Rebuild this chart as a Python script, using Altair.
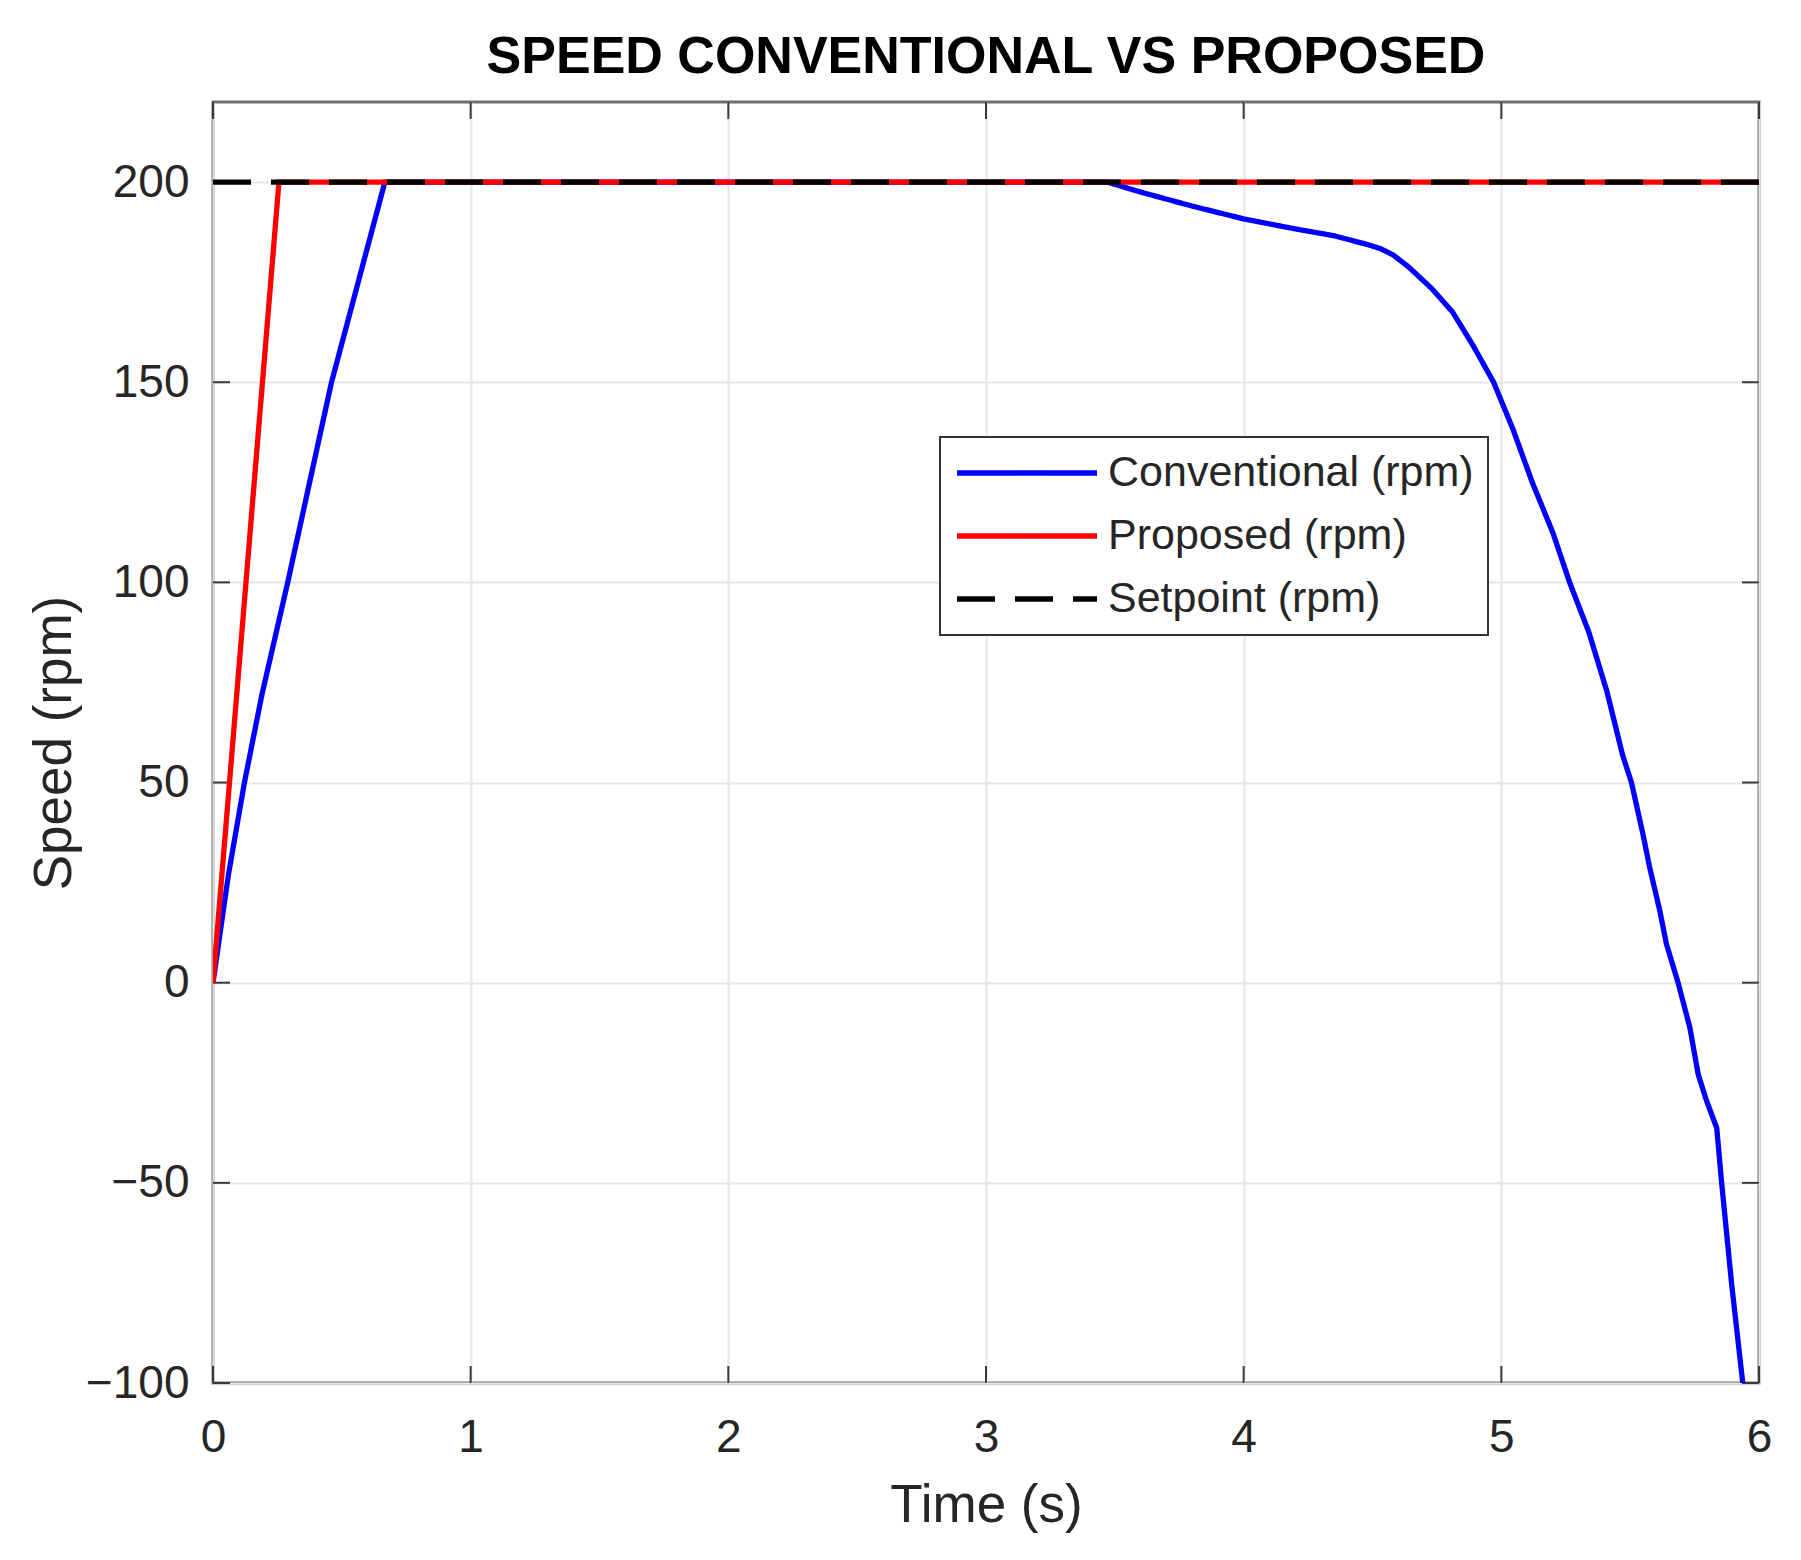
import altair as alt
import pandas as pd

# ---- data ----
conv_t = [0, 0.06, 0.122, 0.19, 0.29, 0.46, 0.667,
          3.47, 3.6, 3.8, 4.0, 4.2, 4.35, 4.48, 4.53, 4.58, 4.64,
          4.73, 4.81, 4.89, 4.97, 5.045, 5.12, 5.2, 5.265, 5.34, 5.41,
          5.47, 5.505, 5.55, 5.575, 5.615, 5.641, 5.686, 5.732, 5.764, 5.797,
          5.836, 5.855, 5.894, 5.937]
conv_v = [0, 27, 50, 72, 100, 150, 200,
          200, 197.5, 194, 190.8, 188.3, 186.6, 184.4, 183.4, 181.8, 178.8,
          173.4, 167.6, 159.2, 150, 138.3, 125, 112.4, 100, 87.5, 72.7,
          57, 50, 37, 29, 18, 9.6, 0, -11.3, -22.9, -29.6,
          -36.3, -50, -75.4, -100]
prop_t = [0, 0.256, 6.0]
prop_v = [0, 200, 200]
set_t = [0, 6.0]
set_v = [200, 200]

series_names = ["Conventional (rpm)", "Proposed (rpm)", "Setpoint (rpm)"]
series_colors = ["#0000ff", "#ff0000", "#000000"]
series_dash = [[1, 0], [1, 0], [38, 20]]

x_ticks = [0, 1, 2, 3, 4, 5, 6]
y_ticks = [-100, -50, 0, 50, 100, 150, 200]

rows = []
for name, ts, vs in zip(series_names, [conv_t, prop_t, set_t], [conv_v, prop_v, set_v]):
    for i, (t, v) in enumerate(zip(ts, vs)):
        rows.append({"series": name, "t": t, "v": v, "i": i})
df = pd.DataFrame(rows)

W, H = 1546, 1281
FONT = "Liberation Sans"
TICK_LEN = 17
LW = 5.3

xs = alt.Scale(domain=[0, 6], nice=False, zero=False)
ys = alt.Scale(domain=[-100, 220], nice=False, zero=False)

x_axis = alt.Axis(values=x_ticks, title="Time (s)", grid=True, ticks=False, domain=False,
                  labelPadding=32, titlePadding=19, format="d", labelFlush=False)
y_axis = alt.Axis(values=y_ticks, title="Speed (rpm)", grid=True, ticks=False, domain=False,
                  labelPadding=24, titlePadding=4, format="d", labelFlush=False)

color = alt.Color("series:N", scale=alt.Scale(domain=series_names, range=series_colors),
                  legend=alt.Legend(title=None))
dash = alt.StrokeDash("series:N", scale=alt.Scale(domain=series_names, range=series_dash),
                      legend=alt.Legend(title=None))


def series_layer(name):
    return alt.Chart(df).transform_filter(alt.datum.series == name).mark_line(
        strokeWidth=LW, clip=True
    ).encode(
        x=alt.X("t:Q", scale=xs, axis=x_axis),
        y=alt.Y("v:Q", scale=ys, axis=y_axis),
        color=color,
        strokeDash=dash,
        order="i:Q",
    )


xt = pd.DataFrame({"t": x_ticks})
yt = pd.DataFrame({"v": y_ticks})
tick_col = "#3a3a3a"
xtick_bottom = alt.Chart(xt).mark_rule(color=tick_col, strokeWidth=2).encode(
    x=alt.X("t:Q", scale=xs), y=alt.value(H), y2=alt.value(H - TICK_LEN))
xtick_top = alt.Chart(xt).mark_rule(color=tick_col, strokeWidth=2).encode(
    x=alt.X("t:Q", scale=xs), y=alt.value(0), y2=alt.value(TICK_LEN))
ytick_left = alt.Chart(yt).mark_rule(color=tick_col, strokeWidth=2).encode(
    y=alt.Y("v:Q", scale=ys), x=alt.value(0), x2=alt.value(TICK_LEN))
ytick_right = alt.Chart(yt).mark_rule(color=tick_col, strokeWidth=2).encode(
    y=alt.Y("v:Q", scale=ys), x=alt.value(W - TICK_LEN), x2=alt.value(W))

chart = alt.layer(
    xtick_bottom, xtick_top, ytick_left, ytick_right,
    series_layer(series_names[0]),
    series_layer(series_names[1]),
    series_layer(series_names[2]),
).properties(
    width=W, height=H,
    title=alt.Title("SPEED CONVENTIONAL VS PROPOSED", font=FONT, fontSize=52,
                    fontWeight="bold", color="#000000", offset=17, anchor="middle"),
    padding={"left": 20, "top": 23, "right": 20, "bottom": 5},
    background="white",
).configure_view(
    stroke="#6e6e6e", strokeWidth=3, fill="white"
).configure_axis(
    labelFont=FONT, labelFontSize=46, labelColor="#262626",
    titleFont=FONT, titleFontSize=53, titleColor="#262626", titleFontWeight="normal",
    gridColor="#e6e6e6", gridWidth=2, gridOpacity=1,
).configure_legend(
    orient="none", legendX=727, legendY=335,
    fillColor="white", strokeColor="#333333", strokeWidth=2,
    padding=14, cornerRadius=0,
    labelFont=FONT, labelFontSize=43, labelColor="#262626", labelOffset=8,
    symbolType="stroke", symbolSize=19600, symbolStrokeWidth=LW,
    clipHeight=44, rowPadding=19, labelLimit=600,
)

chart.save("out.html", embed_options={"renderer": "svg", "actions": False})
